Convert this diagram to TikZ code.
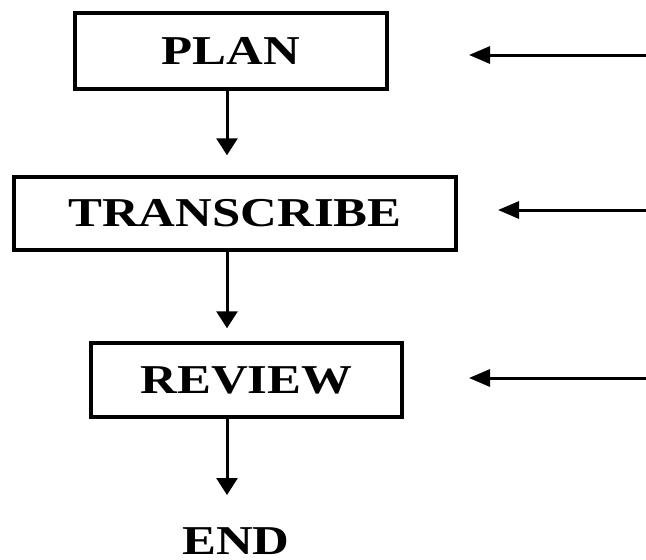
\documentclass[tikz,border=0pt]{standalone}
\usepackage{fontspec}
\setmainfont{Liberation Serif}[FakeStretch=1.24]
\usetikzlibrary{arrows.meta}
\tikzset{
  stage/.style={draw, line width=3.5pt, inner sep=0pt,
    font=\fontsize{41}{41}\selectfont\bfseries},
  flow/.style={line width=3pt, -{Triangle[length=17pt,width=21pt]}},
  feed/.style={line width=3pt, -{Triangle[length=21pt,width=17pt]}}
}
\begin{document}
\begin{tikzpicture}[x=1pt,y=-1pt]
  \useasboundingbox (0,0) rectangle (646,560);
  % stages
  \node[stage, minimum width=312pt, minimum height=76pt] (plan) at (231,51) {PLAN};
  \node[stage, minimum width=442pt, minimum height=73pt] (transcribe) at (235,213.5) {TRANSCRIBE};
  \node[stage, minimum width=311pt, minimum height=74pt] (review) at (246.5,380) {REVIEW};
  \node[font=\fontsize{41}{41}\selectfont\bfseries, inner sep=0pt] (end) at (236,541) {END};
  % down arrows
  \coordinate (axis) at (227,0);
  \draw[flow, shorten >=20pt] (plan.south -| axis) -- (transcribe.north -| axis);
  \draw[flow, shorten >=13pt] (transcribe.south -| axis) -- (review.north -| axis);
  \draw[flow] (review.south -| axis) -- (227,495);
  % feeds from the right
  \coordinate (src1) at (646,55);
  \coordinate (tip1) at (469,55);
  \coordinate (src2) at (646,210);
  \coordinate (tip2) at (498,210);
  \coordinate (src3) at (646,378);
  \coordinate (tip3) at (469,378);
  \draw[feed] (src1) -- (tip1);
  \draw[feed] (src2) -- (tip2);
  \draw[feed] (src3) -- (tip3);
\end{tikzpicture}
\end{document}
